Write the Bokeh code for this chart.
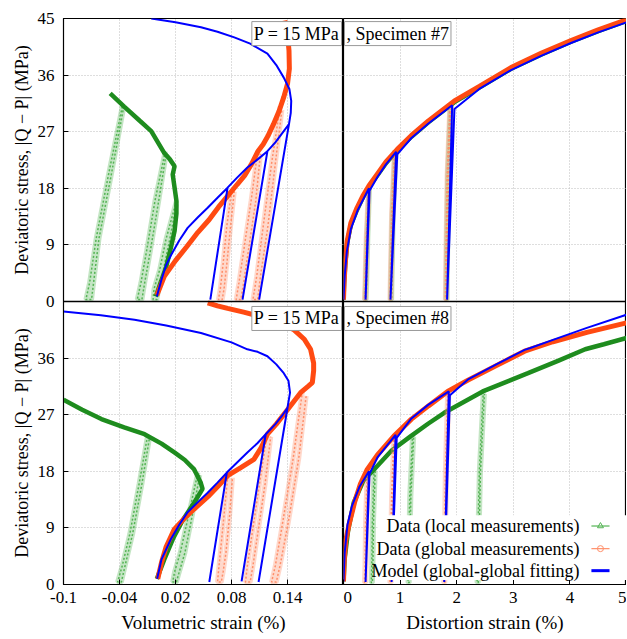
import math
from bokeh.plotting import figure
from bokeh.layouts import row
from bokeh.models import Range1d, FixedTicker, Label, BoxAnnotation, Span, Grid
from bokeh.embed import file_html
from bokeh.resources import INLINE

FONT = "Liberation Serif"

# ---------------- ticks ----------------
vol_ticks = [-0.1, -0.04, 0.02, 0.08, 0.14]
vol_tick_labels = ["-0.1", "-0.04", "0.02", "0.08", "0.14"]
dist_ticks = [0, 1, 2, 3, 4, 5]
dist_tick_labels = ["0", "1", "2", "3", "4", "5"]
stress_ticks_upper = [0, 9, 18, 27, 36, 45]      # upper panel (Specimen #7)
stress_ticks_lower = [0, 9, 18, 27, 36]          # lower panel (Specimen #8)
stress_grid = [9, 18, 27, 36]
vol_grid = [-0.04, 0.02, 0.08, 0.14]
dist_grid = [1, 2, 3, 4]

# ============ Specimen #7 : volumetric strain ============
s7_vol_local_env_x = [-0.001, 0.004, 0.010, 0.015, 0.019, 0.021, 0.021, 0.019, 0.017, 0.019, 0.014, 0.008, -0.006, -0.018, -0.035, -0.050]
s7_vol_local_env_y = [0.8, 3.0, 5.5, 8.5, 11.2, 14.0, 16.0, 18.1, 20.2, 21.5, 22.6, 23.6, 27.1, 28.7, 31.0, 33.1]
s7_vol_local_loops_x = [
    [-0.037, -0.052, -0.065, -0.072, -0.076, -0.070, -0.062, -0.049, -0.036],
    [0.009, -0.002, -0.011, -0.017, -0.021, -0.016, -0.013, -0.007, 0.002, 0.010],
    [0.021, 0.010, 0.003, -0.003, -0.004, 0.000, 0.002, 0.007, 0.014, 0.021],
]
s7_vol_local_loops_y = [
    [31.0, 20.0, 10.0, 3.0, 0.3, 0.3, 10.0, 20.0, 30.5],
    [23.9, 16.0, 8.0, 3.0, 0.3, 0.3, 3.0, 8.0, 16.0, 23.5],
    [16.0, 10.0, 5.0, 2.0, 0.3, 0.3, 2.0, 5.0, 10.0, 15.5],
]
s7_vol_global_env_x = [0.000, 0.008, 0.020, 0.032, 0.044, 0.056, 0.066, 0.076, 0.086, 0.094, 0.102, 0.108, 0.114, 0.119, 0.125, 0.131, 0.136, 0.140, 0.142, 0.1416, 0.140, 0.137]
s7_vol_global_env_y = [1.0, 4.0, 6.5, 8.7, 11.0, 13.0, 15.0, 16.8, 18.6, 20.0, 22.0, 23.8, 25.0, 26.3, 28.2, 30.3, 32.5, 34.6, 37.0, 39.9, 42.5, 44.7]
s7_vol_global_loops_x = [
    [0.080, 0.075, 0.071, 0.068, 0.066, 0.070, 0.072, 0.075, 0.079, 0.083],
    [0.108, 0.101, 0.094, 0.088, 0.085, 0.090, 0.093, 0.099, 0.106, 0.111],
    [0.132, 0.123, 0.114, 0.107, 0.103, 0.108, 0.111, 0.119, 0.127, 0.134],
]
s7_vol_global_loops_y = [
    [17.5, 12.0, 6.0, 2.0, 0.3, 0.3, 2.0, 6.0, 12.0, 17.5],
    [23.8, 16.0, 9.0, 3.0, 0.3, 0.3, 3.0, 9.0, 16.0, 23.5],
    [31.0, 22.0, 12.0, 4.0, 0.3, 0.3, 4.0, 12.0, 22.0, 30.5],
]
s7_vol_model_x = [0.000, 0.005, 0.010, 0.0153, 0.024, 0.033, 0.044, 0.0545, 0.065, 0.0758, 0.0573, 0.0758,
                  0.086, 0.097, 0.108, 0.1185, 0.0918, 0.1185, 0.127, 0.134, 0.1416, 0.1096, 0.1416,
                  0.1435, 0.144, 0.142, 0.136, 0.128, 0.1185, 0.100, 0.083, 0.065, 0.0473, 0.020, -0.006]
s7_vol_model_y = [0.8, 3.5, 5.8, 7.4, 9.7, 11.7, 13.4, 14.9, 16.5, 18.1, 0.3, 18.1,
                  19.7, 21.3, 22.6, 23.9, 0.3, 23.9, 25.3, 26.7, 28.2, 0.3, 28.2,
                  30.0, 31.9, 33.8, 35.6, 37.6, 39.4, 41.0, 42.0, 42.9, 43.6, 44.4, 45.0]

# ============ Specimen #7 : distortion strain ============
s7_dist_local_env_x = [0.0, 0.01, 0.03, 0.065, 0.13, 0.24, 0.35, 0.45, 0.6, 0.75, 0.95, 1.2, 1.5, 1.96, 2.4, 2.96, 3.5, 4.02, 4.5, 5.0]
s7_dist_local_env_y = [0.3, 2.8, 5.8, 9.3, 12.2, 14.6, 16.7, 18.2, 20.1, 22.0, 24.0, 26.2, 28.5, 31.7, 34.0, 37.0, 39.3, 41.3, 43.0, 44.6]
s7_dist_local_loops_x = [
    [0.45, 0.41, 0.39, 0.38, 0.40, 0.41, 0.43, 0.46],
    [0.91, 0.86, 0.84, 0.83, 0.85, 0.86, 0.88, 0.93],
    [1.89, 1.84, 1.82, 1.81, 1.83, 1.84, 1.86, 1.91],
]
s7_dist_local_loops_y = [
    [18.2, 10.0, 3.0, 0.3, 0.3, 3.0, 10.0, 18.2],
    [24.0, 14.0, 5.0, 0.3, 0.3, 5.0, 14.0, 24.0],
    [31.5, 20.0, 8.0, 0.3, 0.3, 8.0, 20.0, 31.5],
]
s7_dist_global_env_x = [0.0, 0.01, 0.03, 0.065, 0.13, 0.24, 0.35, 0.45, 0.6, 0.75, 0.95, 1.2, 1.5, 1.96, 2.4, 2.96, 3.5, 4.02, 4.5, 5.0]
s7_dist_global_env_y = [0.3, 3.0, 6.0, 9.6, 12.5, 14.9, 16.9, 18.4, 20.3, 22.2, 24.2, 26.4, 28.7, 31.9, 34.2, 37.2, 39.5, 41.5, 43.2, 44.8]
s7_dist_global_loops_x = [
    [0.44, 0.40, 0.38, 0.37, 0.39, 0.40, 0.42, 0.45],
    [0.90, 0.85, 0.83, 0.82, 0.84, 0.85, 0.87, 0.92],
    [1.88, 1.83, 1.81, 1.80, 1.82, 1.83, 1.85, 1.90],
]
s7_dist_global_loops_y = [
    [18.0, 10.0, 3.0, 0.3, 0.3, 3.0, 10.0, 18.0],
    [24.0, 14.0, 5.0, 0.3, 0.3, 5.0, 14.0, 24.0],
    [31.5, 20.0, 8.0, 0.3, 0.3, 8.0, 20.0, 31.5],
]
s7_dist_model_x = [0.0, 0.02, 0.06, 0.13, 0.25, 0.45, 0.39, 0.46, 0.6, 0.75, 0.93, 0.83, 0.95,
                   1.2, 1.5, 1.92, 1.83, 1.96, 2.4, 2.96, 3.5, 4.02, 4.5, 5.0]
s7_dist_model_y = [0.3, 4.0, 8.0, 11.5, 14.5, 18.0, 0.3, 17.6, 19.8, 21.8, 23.8, 0.3, 23.4,
                   26.0, 28.3, 31.2, 0.3, 30.6, 33.8, 36.8, 39.1, 41.1, 42.8, 44.4]

# ============ Specimen #8 : volumetric strain ============
s8_vol_local_env_x = [0.000, 0.008, 0.018, 0.028, 0.040, 0.049, 0.047, 0.040, 0.030, 0.0188, 0.005, -0.0132, -0.035, -0.0594, -0.080, -0.1]
s8_vol_local_env_y = [0.9, 4.0, 7.5, 10.3, 13.0, 15.2, 16.2, 18.3, 19.8, 21.0, 22.4, 23.9, 25.0, 26.3, 27.8, 29.4]
s8_vol_local_loops_x = [
    [-0.010, -0.019, -0.029, -0.037, -0.042, -0.038, -0.034, -0.026, -0.016, -0.008],
    [0.044, 0.034, 0.025, 0.019, 0.017, 0.021, 0.024, 0.030, 0.038, 0.046],
]
s8_vol_local_loops_y = [
    [23.6, 16.0, 8.0, 3.0, 0.4, 0.4, 3.0, 8.0, 16.0, 23.2],
    [17.8, 11.0, 5.0, 2.0, 0.4, 0.4, 2.0, 5.0, 11.0, 17.4],
]
s8_vol_global_env_x = [0.001, 0.005, 0.010, 0.0188, 0.030, 0.040, 0.055, 0.066, 0.0758, 0.090, 0.104, 0.112, 0.1185, 0.128, 0.140, 0.154,
                       0.162, 0.1666, 0.168, 0.168, 0.1647, 0.158, 0.147, 0.130, 0.1114, 0.093, 0.0758, 0.065, 0.0545]
s8_vol_global_env_y = [0.9, 3.5, 6.0, 8.8, 10.6, 12.0, 14.0, 15.7, 17.3, 18.6, 19.9, 21.8, 23.9, 25.5, 27.8, 30.5,
                       31.5, 32.1, 34.0, 35.2, 37.4, 39.0, 40.5, 41.6, 42.6, 43.3, 43.9, 44.3, 44.8]
s8_vol_global_loops_x = [
    [0.076, 0.072, 0.068, 0.066, 0.065, 0.069, 0.071, 0.074, 0.078, 0.081],
    [0.118, 0.110, 0.102, 0.097, 0.095, 0.100, 0.103, 0.108, 0.116, 0.122],
    [0.156, 0.146, 0.135, 0.127, 0.123, 0.128, 0.132, 0.141, 0.152, 0.160],
]
s8_vol_global_loops_y = [
    [17.3, 11.0, 5.0, 2.0, 0.4, 0.4, 2.0, 5.0, 11.0, 17.0],
    [23.9, 16.0, 8.0, 3.0, 0.4, 0.4, 3.0, 8.0, 16.0, 23.5],
    [30.7, 20.0, 10.0, 3.0, 0.4, 0.4, 3.0, 10.0, 20.0, 30.0],
]
s8_vol_model_x = [0.0003, 0.005, 0.015, 0.024, 0.033, 0.044, 0.0545, 0.065, 0.075, 0.0562, 0.075,
                  0.086, 0.097, 0.108, 0.1167, 0.0908, 0.1167, 0.127, 0.134, 0.140, 0.109, 0.140,
                  0.1427, 0.141, 0.136, 0.128, 0.1185, 0.108, 0.097, 0.080, 0.0473, 0.010, -0.0239, -0.060, -0.1]
s8_vol_model_y = [0.9, 4.0, 7.2, 9.5, 11.5, 13.1, 14.6, 16.2, 17.8, 0.4, 17.8,
                  19.4, 21.0, 22.5, 23.9, 0.5, 23.9, 25.5, 26.8, 28.1, 0.4, 28.1,
                  30.5, 32.4, 33.6, 35.0, 36.3, 37.0, 37.4, 38.5, 40.0, 41.2, 42.1, 42.8, 43.4]

# ============ Specimen #8 : distortion strain ============
s8_dist_local_env_x = [0.0, 0.02, 0.08, 0.18, 0.35, 0.54, 0.85, 1.19, 1.5, 1.78, 2.1, 2.46, 2.9, 3.26, 3.8, 4.27, 4.6, 5.0]
s8_dist_local_env_y = [0.5, 4.0, 8.5, 13.0, 16.5, 18.3, 21.3, 23.6, 25.6, 27.3, 28.9, 30.7, 32.3, 33.6, 35.6, 37.4, 38.2, 39.2]
s8_dist_local_loops_x = [
    [0.54, 0.51, 0.50, 0.49, 0.51, 0.52, 0.53, 0.56],
    [1.22, 1.17, 1.15, 1.14, 1.16, 1.17, 1.19, 1.24],
    [2.47, 2.40, 2.37, 2.36, 2.38, 2.39, 2.42, 2.49],
]
s8_dist_local_loops_y = [
    [18.3, 10.0, 3.0, 0.3, 0.3, 3.0, 10.0, 18.0],
    [23.8, 14.0, 5.0, 0.3, 0.3, 5.0, 14.0, 23.5],
    [30.7, 18.0, 6.0, 0.3, 0.3, 6.0, 18.0, 30.3],
]
s8_dist_global_env_x = [0.0, 0.01, 0.04, 0.094, 0.2, 0.3, 0.42, 0.6, 0.89, 1.2, 1.5, 1.84, 2.2, 2.7, 3.2, 3.7, 4.3, 5.0]
s8_dist_global_env_y = [0.5, 3.5, 7.0, 9.4, 13.2, 16.0, 18.3, 20.6, 23.6, 26.3, 28.4, 30.7, 32.5, 34.8, 37.1, 38.6, 40.1, 41.6]
s8_dist_global_loops_x = [
    [0.42, 0.39, 0.38, 0.37, 0.39, 0.40, 0.41, 0.44],
    [0.89, 0.85, 0.83, 0.82, 0.84, 0.85, 0.87, 0.91],
    [1.84, 1.80, 1.78, 1.77, 1.79, 1.80, 1.82, 1.86],
]
s8_dist_global_loops_y = [
    [18.3, 10.0, 3.0, 0.3, 0.3, 3.0, 10.0, 18.0],
    [23.6, 14.0, 5.0, 0.3, 0.3, 5.0, 14.0, 23.4],
    [30.7, 18.0, 6.0, 0.3, 0.3, 6.0, 18.0, 30.4],
]
s8_dist_model_x = [0.0, 0.02, 0.07, 0.15, 0.28, 0.45, 0.39, 0.46, 0.6, 0.92, 0.85, 0.94,
                   1.2, 1.5, 1.86, 1.78, 1.88, 2.2, 2.7, 3.2, 3.3, 3.7, 4.3, 5.0]
s8_dist_model_y = [0.5, 5.0, 9.5, 12.5, 15.5, 18.0, 0.4, 17.6, 20.2, 23.8, 0.4, 23.3,
                   26.4, 28.6, 30.7, 0.4, 30.1, 32.6, 35.0, 37.3, 37.6, 38.9, 40.8, 42.9]

legend_labels = ["Data (local measurements)", "Data (global measurements)", "Model (global-global fitting)"]
ylabel_text = "Deviatoric stress, |Q \u2212 P| (MPa)"

# ---------------- styles ----------------
GREEN_DARK = "#1e8c1e"
GREEN_LIGHT = "#55b455"
ORANGE = "#ff4a12"
ORANGE_LIGHT = "#ff8f6a"
BLUE = "#0000ff"

LABEL_COL_W = 34
B_LEFT = 28
B_TOP = 18
B_BOTTOM = 54
FRAME_H = 566
FRAME_W_LEFT = 281
FRAME_W_RIGHT = 283
PANEL_MAX = 45
TOTAL_H = FRAME_H + B_TOP + B_BOTTOM


def make_column(x_range, frame_w, border_left, show_y, x_grid):
    # default y-range holds the lower panel (0..45 in the lower half),
    # the "upper" range holds the upper panel (0..45 in the upper half)
    p = figure(width=frame_w + border_left, height=TOTAL_H,
               x_range=x_range, y_range=Range1d(0, 2 * PANEL_MAX),
               x_axis_location="below", y_axis_location="left" if show_y else None,
               output_backend="svg", toolbar_location=None,
               min_border_left=border_left, min_border_right=0,
               min_border_top=B_TOP, min_border_bottom=B_BOTTOM)
    p.extra_y_ranges = {"upper": Range1d(-PANEL_MAX, PANEL_MAX)}
    p.background_fill_color = "white"
    p.border_fill_color = "white"
    p.outline_line_color = "black"
    p.outline_line_width = 1.2
    p.xgrid.ticker = FixedTicker(ticks=x_grid)
    p.ygrid.ticker = FixedTicker(ticks=stress_grid)
    p.add_layout(Grid(dimension=1, ticker=FixedTicker(ticks=stress_grid), y_range_name="upper"))
    for g in p.select(type=Grid):
        g.grid_line_color = "#bdbdbd"
        g.grid_line_dash = "1 2"
        g.grid_line_width = 1
    p.add_layout(Span(location=0, dimension="width", y_range_name="upper",
                      line_color="black", line_width=1.4))
    return p


def style_axis(ax):
    ax.major_label_text_font = FONT
    ax.major_label_text_font_size = "17px"
    ax.major_label_text_color = "black"
    ax.axis_label_text_font = FONT
    ax.axis_label_text_font_style = "normal"
    ax.axis_label_text_font_size = "19px"
    ax.axis_label_text_color = "black"
    ax.axis_line_color = "black"
    ax.major_tick_in = 5
    ax.major_tick_out = 0
    ax.major_tick_line_color = "black"
    ax.minor_tick_line_color = None


def draw(p, rname, lx, ly, lloops_x, lloops_y, gx, gy, gloops_x, gloops_y, mx, my):
    kw = {} if rname is None else {"y_range_name": rname}
    p.multi_line(lloops_x, lloops_y, line_color=GREEN_LIGHT, line_width=5, line_alpha=0.35, **kw)
    p.multi_line(lloops_x, lloops_y, line_color=GREEN_LIGHT, line_width=1.5, line_dash="2 2", **kw)
    p.line(lx, ly, line_color=GREEN_DARK, line_width=4.5, **kw)
    p.multi_line(gloops_x, gloops_y, line_color=ORANGE_LIGHT, line_width=5, line_alpha=0.35, **kw)
    p.multi_line(gloops_x, gloops_y, line_color=ORANGE_LIGHT, line_width=1.5, line_dash="2 2", **kw)
    p.line(gx, gy, line_color=ORANGE, line_width=5, **kw)
    p.line(mx, my, line_color=BLUE, line_width=2, **kw)


# ---------- narrow column that carries the two y-axis titles ----------
ytitle = figure(width=LABEL_COL_W, height=TOTAL_H, x_range=Range1d(0, 1), y_range=Range1d(0, 2 * PANEL_MAX),
                x_axis_location=None, y_axis_location=None, output_backend="svg", toolbar_location=None,
                min_border_left=0, min_border_right=0, min_border_top=B_TOP, min_border_bottom=B_BOTTOM)
ytitle.extra_y_ranges = {"upper": Range1d(-PANEL_MAX, PANEL_MAX)}
ytitle.outline_line_color = None
ytitle.grid.visible = False
ytitle.background_fill_color = "white"
ytitle.border_fill_color = "white"
ylab_style = dict(text=ylabel_text, angle=math.pi / 2, text_align="center", text_baseline="middle",
                  text_font=FONT, text_font_size="18px", text_color="black", x=0.62)
ytitle.add_layout(Label(y=PANEL_MAX / 2, y_range_name="upper", **ylab_style))
ytitle.add_layout(Label(y=PANEL_MAX / 2, **ylab_style))

left = make_column(Range1d(-0.1, 0.2), FRAME_W_LEFT, B_LEFT, True, vol_grid)
right = make_column(Range1d(0, 5), FRAME_W_RIGHT, 0, False, dist_grid)

# x axes
style_axis(left.xaxis[0])
left.xaxis[0].ticker = FixedTicker(ticks=vol_ticks)
left.xaxis[0].major_label_overrides = dict(zip(vol_ticks, vol_tick_labels))
left.xaxis[0].axis_label = "Volumetric strain (%)"
style_axis(right.xaxis[0])
right.xaxis[0].ticker = FixedTicker(ticks=dist_ticks)
right.xaxis[0].major_label_overrides = dict(zip(dist_ticks, dist_tick_labels))
right.xaxis[0].axis_label = "Distortion strain (%)"
for ax in (left.xaxis[0], right.xaxis[0]):
    ax.major_label_standoff = 7
    ax.axis_label_standoff = 6

# shared y axis of the two stacked panels (lower panel ticks, then upper panel ticks)
yax = left.yaxis[0]
style_axis(yax)
y_positions = stress_ticks_lower + [PANEL_MAX + t for t in stress_ticks_upper]
y_labels = [str(t) for t in stress_ticks_lower] + [str(t) for t in stress_ticks_upper]
yax.ticker = FixedTicker(ticks=y_positions)
yax.major_label_overrides = dict(zip(y_positions, y_labels))
yax.major_label_standoff = 9

draw(left, "upper", s7_vol_local_env_x, s7_vol_local_env_y, s7_vol_local_loops_x, s7_vol_local_loops_y,
     s7_vol_global_env_x, s7_vol_global_env_y, s7_vol_global_loops_x, s7_vol_global_loops_y,
     s7_vol_model_x, s7_vol_model_y)
draw(right, "upper", s7_dist_local_env_x, s7_dist_local_env_y, s7_dist_local_loops_x, s7_dist_local_loops_y,
     s7_dist_global_env_x, s7_dist_global_env_y, s7_dist_global_loops_x, s7_dist_global_loops_y,
     s7_dist_model_x, s7_dist_model_y)
draw(left, None, s8_vol_local_env_x, s8_vol_local_env_y, s8_vol_local_loops_x, s8_vol_local_loops_y,
     s8_vol_global_env_x, s8_vol_global_env_y, s8_vol_global_loops_x, s8_vol_global_loops_y,
     s8_vol_model_x, s8_vol_model_y)
draw(right, None, s8_dist_local_env_x, s8_dist_local_env_y, s8_dist_local_loops_x, s8_dist_local_loops_y,
     s8_dist_global_env_x, s8_dist_global_env_y, s8_dist_global_loops_x, s8_dist_global_loops_y,
     s8_dist_model_x, s8_dist_model_y)


# ---------------- title boxes (split across the two columns) ----------------
def title_box(spec, rname, yy):
    common = dict(y=yy, y_units="data", y_range_name=rname, text_baseline="middle", text_font=FONT,
                  text_font_size="18px", text_color="black", background_fill_color="white",
                  background_fill_alpha=1.0, border_line_color="#9a9a9a", border_line_width=1,
                  padding=2)
    left.add_layout(Label(x=0.2, x_offset=-2, text="P = 15 MPa", text_align="right", **common))
    right.add_layout(Label(x=0, x_offset=1, text=", Specimen #%d" % spec, text_align="left", **common))


title_box(7, "upper", 42.6)
title_box(8, "default", 42.3)

# ---------------- legend (text on the left, sample on the right) ----------------
right.add_layout(BoxAnnotation(left=0.6, right=5, bottom=0.7, top=11.0, fill_color="white",
                               fill_alpha=1.0, line_color=None))
leg_y = [9.3, 5.7, 2.2]
for lab, yy in zip(legend_labels, leg_y):
    right.add_layout(Label(x=4.17, y=yy, text=lab, text_align="right", text_baseline="middle",
                           text_font=FONT, text_font_size="18px", text_color="black"))
r = right.line([4.38, 4.70], [leg_y[0], leg_y[0]], line_color=GREEN_LIGHT, line_width=1.2)
r.level = "overlay"
r = right.scatter([4.54], [leg_y[0]], marker="triangle", size=6, line_color=GREEN_LIGHT, fill_color=None)
r.level = "overlay"
r = right.line([4.38, 4.70], [leg_y[1], leg_y[1]], line_color=ORANGE_LIGHT, line_width=1.2)
r.level = "overlay"
r = right.scatter([4.54], [leg_y[1]], marker="circle", size=6, line_color=ORANGE_LIGHT, fill_color=None)
r.level = "overlay"
r = right.line([4.38, 4.70], [leg_y[2], leg_y[2]], line_color=BLUE, line_width=3)
r.level = "overlay"

layout = row(ytitle, left, right)

open("out.html", "w").write(file_html(layout, INLINE))
